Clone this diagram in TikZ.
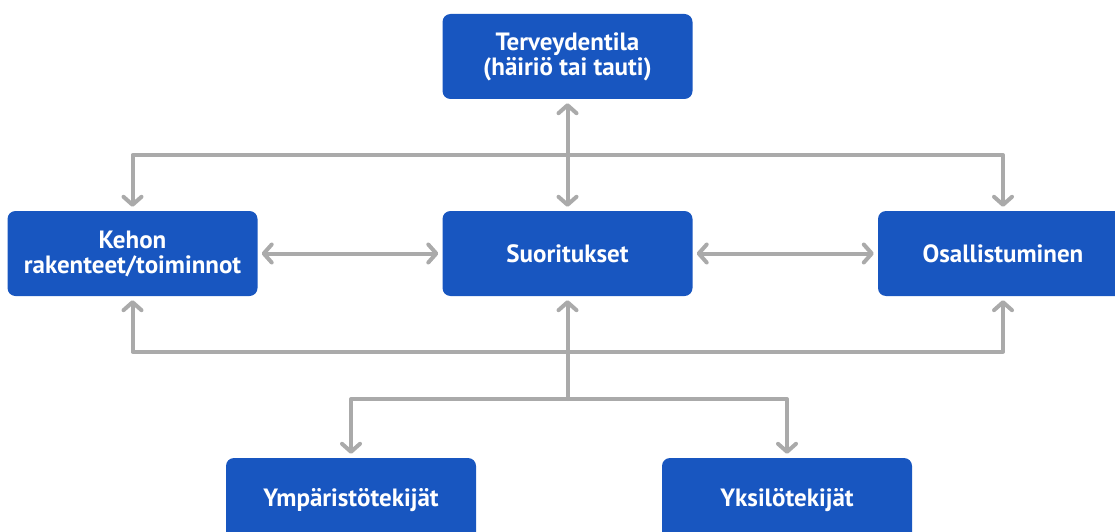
\documentclass[tikz,border=0pt]{standalone}
\usepackage{fontspec}
\setmainfont{PT Sans}
\usetikzlibrary{arrows.meta}
\definecolor{boxblue}{RGB}{24,86,192}
\definecolor{congray}{RGB}{170,170,170}
\tikzset{
  box/.style={rectangle, rounded corners=8pt, fill=boxblue, draw=none,
    minimum width=250pt, minimum height=85pt, inner sep=0pt,
    text=white, align=center,
    font=\fontsize{25}{25}\selectfont\bfseries},
  con/.style={draw=congray, line width=4pt, line cap=round, line join=round,
    arrows={-}, >={Straight Barb[length=8pt,width=18pt,line cap=round,line join=round]}},
}
\begin{document}
\begin{tikzpicture}[x=1pt,y=-1pt]
\useasboundingbox (0,0) rectangle (1115,532);
\begin{scope}
\clip (0,0) rectangle (1115,532);
\node[box] (T) at (567.5,56.5) {Terveydentila\\(häiriö tai tauti)};
\node[box] (K) at (132.5,253.5) {Kehon\\rakenteet/toiminnot};
\node[box] (S) at (567.5,253.5) {Suoritukset};
\node[box] (O) at (1003,253.5) {Osallistuminen};
\node[box] (Y) at (351,500.5) {Ympäristötekijät};
\node[box] (I) at (787,500.5) {Yksilötekijät};

\coordinate (top) at (0,155);
\coordinate (bot) at (0,351.5);
\coordinate (J) at (567.5,399);

% top loop
\draw[con,<->] ([yshift=4pt]K.north) -- (K.north |- top) -| ([yshift=4pt]O.north);
% bottom loop
\draw[con,<->] ([yshift=-4pt]K.south) -- (K.south |- bot) -| ([yshift=-4pt]O.south);
% T <-> S
\draw[con,<->] ([yshift=-4pt]T.south) -- ([yshift=4pt]S.north);
% horizontals
\draw[con,<->] ([xshift=4pt]K.east) -- ([xshift=-4pt]S.west);
\draw[con,<->] ([xshift=4pt]S.east) -- ([xshift=-4pt]O.west);
% bottom branch
\draw[con,->] (J) -- ([yshift=-4pt]S.south);
\draw[con,->] (J) -| ([yshift=4pt]Y.north);
\draw[con,->] (J) -| ([yshift=4pt]I.north);
\end{scope}
\end{tikzpicture}
\end{document}
